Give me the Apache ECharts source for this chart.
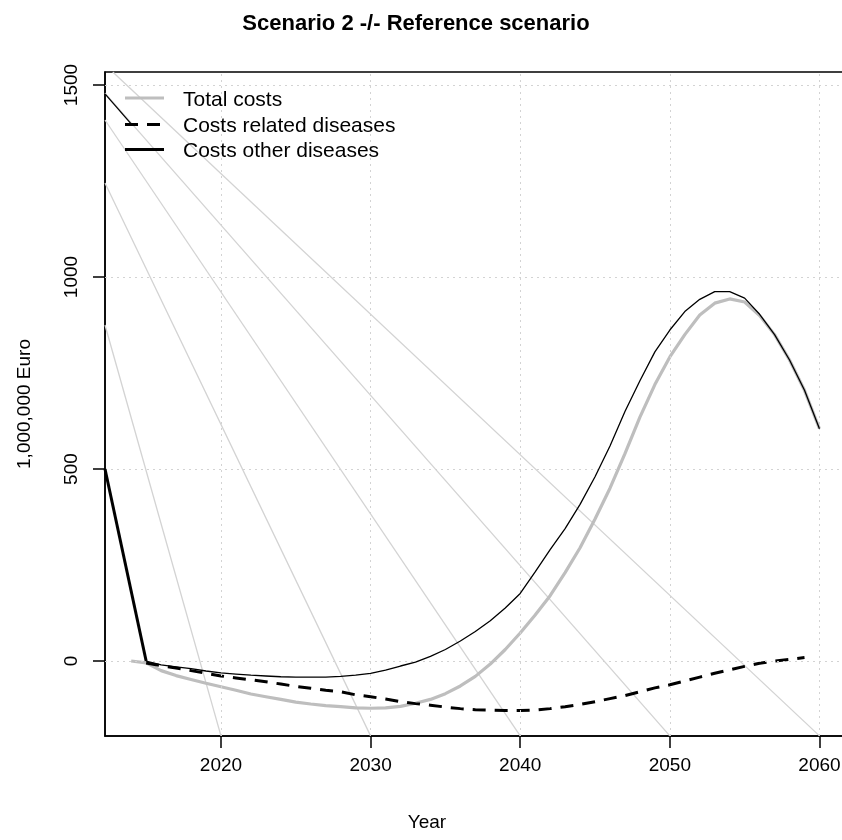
<!DOCTYPE html>
<html><head><meta charset="utf-8">
<script src="https://cdn.jsdelivr.net/npm/echarts@6/dist/echarts.min.js"></script>
<style>html,body{margin:0;padding:0;background:#fff}#c{width:842px;height:840px;overflow:hidden}</style>
</head><body><div id="c"></div>
<script>
// ---- data ----
const totalYears = [2014,2015,2016,2017,2018,2019,2020,2021,2022,2023,2024,2025,2026,2027,2028,2029,2030,2031,2032,2033,2034,2035,2036,2037,2038,2039,2040,2041,2042,2043,2044,2045,2046,2047,2048,2049,2050,2051,2052,2053,2054,2055,2056,2057,2058,2059,2060];
const totalCosts = [0,-5,-25,-38,-48,-58,-67,-76,-86,-93,-100,-107,-112,-116,-119,-122,-123,-122,-118,-110,-100,-85,-65,-40,-8,30,73,120,170,230,295,370,450,540,635,720,792,850,901,932,943,935,900,850,784,705,605];
const otherYears = [2015,2016,2017,2018,2019,2020,2021,2022,2023,2024,2025,2026,2027,2028,2029,2030,2031,2032,2033,2034,2035,2036,2037,2038,2039,2040,2041,2042,2043,2044,2045,2046,2047,2048,2049,2050,2051,2052,2053,2054,2055,2056,2057,2058,2059,2060];
const otherCosts = [0,-10,-15,-20,-26,-31,-34,-37,-39,-41,-42,-42,-42,-40,-37,-32,-24,-13,-3,12,30,52,77,105,138,176,232,290,345,408,480,560,650,730,805,862,910,942,962,962,945,903,850,784,705,605];
const relatedYears = [2015,2016,2017,2018,2019,2020,2021,2022,2023,2024,2025,2026,2027,2028,2029,2030,2031,2032,2033,2034,2035,2036,2037,2038,2039,2040,2041,2042,2043,2044,2045,2046,2047,2048,2049,2050,2051,2052,2053,2054,2055,2056,2057,2058,2059];
const relatedCosts = [-5,-12,-18,-25,-32,-39,-44,-49,-54,-60,-66,-71,-76,-80,-88,-93,-99,-106,-111,-115,-120,-124,-127,-128,-129,-129,-128,-124,-119,-113,-106,-98,-90,-80,-70,-62,-52,-42,-32,-23,-14,-6,0,4,9];
// early segments visible at left edge
const startSegYears = [2012.25, 2015];
const startSegCosts = [500, 0];
const thinSegYears = [2012.25, 2014.04];
const thinSegCosts = [1477, 1397];
// light grey straight guide lines
const guideStartYears = [2012.25, 2012.25, 2012.25, 2012.25, 2012.77];
const guideStartValues = [875, 1245, 1409, 1479, 1534];
const guideEndYears = [2020, 2030, 2040, 2050, 2060];
const guideEndValues = [-195, -195, -195, -195, -195];
// axes
const xTicks = [2020, 2030, 2040, 2050, 2060];
const yTicks = [0, 500, 1000, 1500];
const xMin = 2012.25, xMax = 2061.84;
const yMin = -195.3, yMax = 1534;
const legendNames = ['Total costs', 'Costs related diseases', 'Costs other diseases'];

// ---- chart ----
const FONT = "'Liberation Sans', Arial, Helvetica, sans-serif";
const chart = echarts.init(document.getElementById('c'), null, {renderer: 'canvas'});
const zip = (xs, ys) => xs.map((x, i) => [x, ys[i]]);
const gridColor = '#D3D3D3';

const series = [];
// grid lines (dotted)
series.push({
  type: 'line', data: [], silent: true, z: 1,
  markLine: {
    silent: true, symbol: ['none', 'none'], label: {show: false}, animation: false,
    lineStyle: {color: gridColor, type: [2, 4], width: 1},
    data: xTicks.map(v => ({xAxis: v})).concat(yTicks.map(v => ({yAxis: v})))
  }
});
guideStartYears.forEach((sx, i) => {
  series.push({
    type: 'line', name: 'guide' + i, z: 2, silent: true, symbol: 'none',
    data: [[sx, guideStartValues[i]], [guideEndYears[i], guideEndValues[i]]],
    lineStyle: {color: '#D3D3D3', width: 1.3}
  });
});
series.push({
  type: 'line', name: legendNames[0], z: 3, symbol: 'none',
  data: zip(totalYears, totalCosts),
  lineStyle: {color: '#BEBEBE', width: 3.2}
});
series.push({
  type: 'line', name: legendNames[1], z: 4, symbol: 'none',
  data: zip(relatedYears, relatedCosts),
  lineStyle: {color: '#000', width: 3, type: [13, 9]}
});
series.push({
  type: 'line', name: legendNames[2], z: 5, symbol: 'none',
  data: zip(otherYears, otherCosts),
  lineStyle: {color: '#000', width: 1.3}
});
series.push({
  type: 'line', name: 'startSeg', z: 5, symbol: 'none',
  data: zip(startSegYears, startSegCosts),
  lineStyle: {color: '#000', width: 3}
});
series.push({
  type: 'line', name: 'thinSeg', z: 5, symbol: 'none',
  data: zip(thinSegYears, thinSegCosts),
  lineStyle: {color: '#000', width: 1.3}
});

// legend drawn as graphic
const legY = [98, 124.5, 149.5];
const legStyles = [
  {stroke: '#BEBEBE', lineWidth: 3.2},
  {stroke: '#000', lineWidth: 3, lineDash: [13, 9]},
  {stroke: '#000', lineWidth: 3}
];
const graphics = [];
legendNames.forEach((n, i) => {
  graphics.push({type: 'line', shape: {x1: 125, y1: legY[i], x2: 164, y2: legY[i]}, style: legStyles[i], z: 10});
  graphics.push({type: 'text', x: 183, y: legY[i] + 2, style: {text: n, font: '21px ' + FONT, fill: '#000', textVerticalAlign: 'middle'}, z: 10});
});
graphics.push({type: 'text', x: 416, y: 24, style: {text: 'Scenario 2 -/- Reference scenario', font: 'bold 22px ' + FONT, fill: '#000', textAlign: 'center', textVerticalAlign: 'middle'}});
graphics.push({type: 'text', x: 427, y: 823, style: {text: 'Year', font: '19px ' + FONT, fill: '#000', textAlign: 'center', textVerticalAlign: 'middle'}});
graphics.push({type: 'text', x: 25, y: 404, rotation: Math.PI / 2, style: {text: '1,000,000 Euro', font: '19px ' + FONT, fill: '#000', textAlign: 'center', textVerticalAlign: 'middle'}});

chart.setOption({
  animation: false,
  backgroundColor: '#fff',
  grid: {left: 105, top: 72, width: 742, height: 664, outerBoundsMode: 'none', containLabel: false, show: true, borderColor: '#000', borderWidth: 1.5, backgroundColor: 'transparent'},
  xAxis: {
    type: 'value', min: xMin, max: xMax,
    axisLine: {show: true, onZero: false, lineStyle: {color: '#000', width: 1.5}},
    axisTick: {show: true, customValues: xTicks, length: 12, lineStyle: {color: '#000', width: 1.5}},
    axisLabel: {customValues: xTicks, fontSize: 19, color: '#000', margin: 20, fontFamily: FONT, formatter: v => String(v)},
    splitLine: {show: false}
  },
  yAxis: {
    type: 'value', min: yMin, max: yMax,
    axisLine: {show: true, onZero: false, lineStyle: {color: '#000', width: 1.5}},
    axisTick: {show: true, customValues: yTicks, length: 12, lineStyle: {color: '#000', width: 1.5}},
    axisLabel: {customValues: yTicks, fontSize: 19, color: '#000', margin: 24, rotate: 90, fontFamily: FONT, formatter: v => String(v)},
    splitLine: {show: false}
  },
  graphic: graphics,
  series: series
});
</script></body></html>
